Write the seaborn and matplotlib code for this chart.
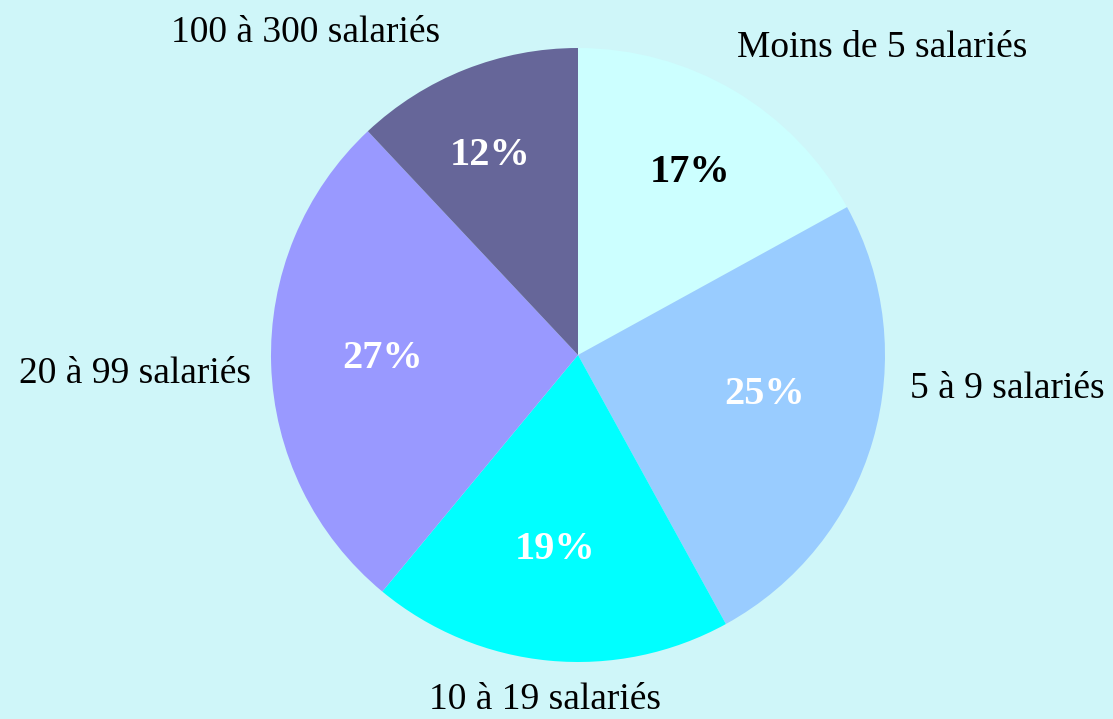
import matplotlib
matplotlib.use('Agg')
import matplotlib.pyplot as plt
import seaborn as sns

# Data
categories = ['Moins de 5 salariés', '5 à 9 salariés', '10 à 19 salariés',
              '20 à 99 salariés', '100 à 300 salariés']
shares = [17, 25, 19, 27, 12]
slice_colors = ['#CCFFFF', '#99CCFF', '#00FFFF', '#9999FF', '#666699']
pct_colors = ['black', 'white', 'white', 'white', 'white']

# Layout (axes data coords, pie radius = 1)
label_pos = [(0.99, 1.0), (1.40, -0.11), (-0.107, -1.124), (-1.443, -0.06), (-0.889, 1.05)]
pct_pos = [(0.365, 0.596), (0.609, -0.13), (-0.075, -0.635), (-0.635, -0.01), (-0.287, 0.651)]

sns.set_style('white')
plt.rcParams['font.family'] = ['Liberation Serif', 'DejaVu Serif']

BG = '#CFF6F9'
fig = plt.figure(figsize=(11.13, 7.19), dpi=100)
fig.patch.set_facecolor(BG)

ax = fig.add_axes([271 / 1113, 57 / 719, 614 / 1113, 614 / 719])
ax.set_facecolor(BG)
palette = sns.color_palette(slice_colors)

wedges, _ = ax.pie(shares, colors=palette, startangle=90, counterclock=False,
                   radius=1, wedgeprops=dict(linewidth=0))
ax.set_xlim(-1, 1)
ax.set_ylim(-1, 1)
ax.axis('off')

for name, (x, y) in zip(categories, label_pos):
    ax.text(x, y, name, ha='center', va='center', fontsize=27, color='black', clip_on=False)

for val, col, (x, y) in zip(shares, pct_colors, pct_pos):
    ax.text(x, y, f'{val}%', ha='center', va='center', fontsize=29,
            fontweight='bold', color=col)

fig.savefig('out.png', dpi=100, facecolor=BG)
